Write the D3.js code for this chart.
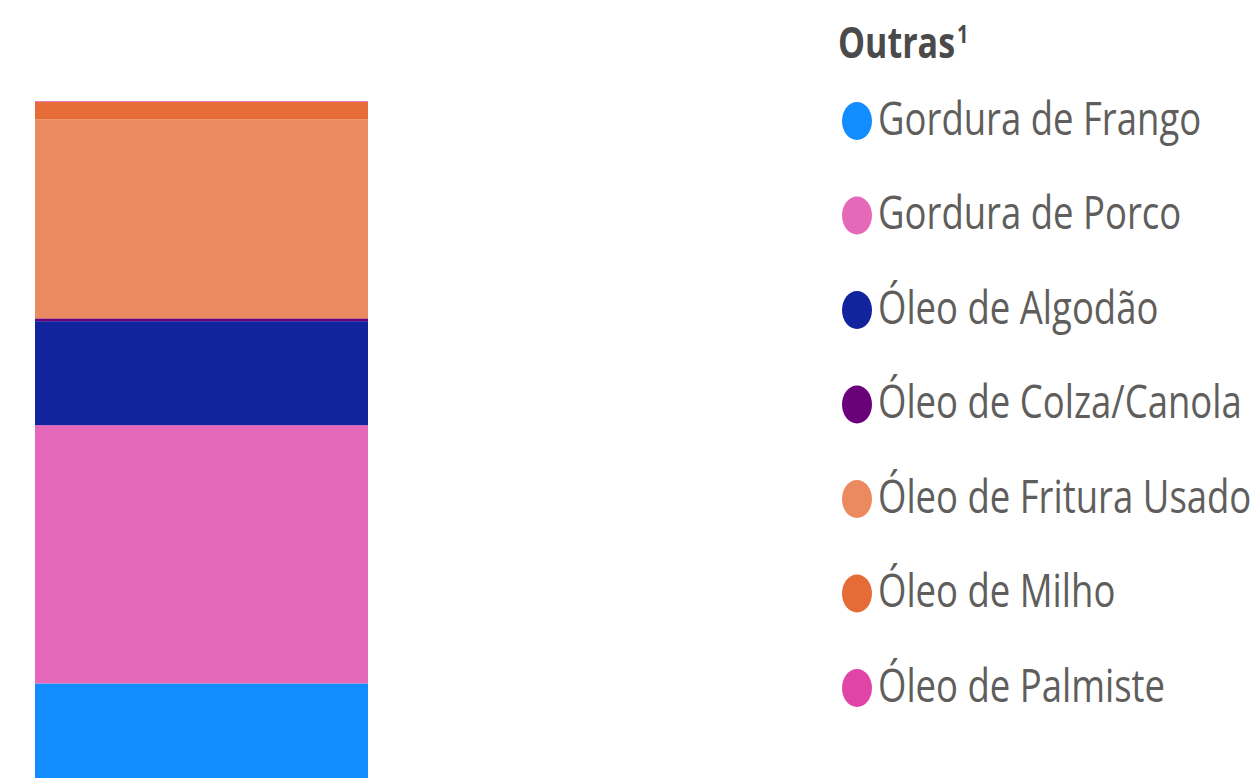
<!DOCTYPE html>
<meta charset="utf-8">
<style>
body { margin: 0; background-color: #fff; }
.legend-title { font-family: "Open Sans", sans-serif; font-weight: 700; font-size: 34px; fill: #4a4a4a; }
.legend-item text { font-family: "Open Sans", sans-serif; font-size: 36.5px; fill: #605e5c; }
</style>
<body>
<script src="https://cdn.jsdelivr.net/npm/d3@7/dist/d3.min.js"></script>
<script>
// single stacked column, "Outras" category, shares (%)
var categories = ["Outras"];
var series = ["Gordura de Frango", "Gordura de Porco", "Óleo de Algodão", "Óleo de Colza/Canola",
              "Óleo de Fritura Usado", "Óleo de Milho", "Óleo de Palmiste"];
var values = [16.7, 37.0, 14.9, 0.4, 28.5, 2.5, 0.1];
var colors = ["#118DFF", "#E668B8", "#12239E", "#6B007B", "#EB895F", "#E66C37", "#E044A7"];

// the source picture is stretched vertically, so draw in a squashed box and let the viewBox stretch it
var W = 1259, H = 778, sy = 1.27,
    vbH = H / sy;

var svg = d3.select("body")
    .append("svg")
    .attr("width", W)
    .attr("height", H)
    .attr("viewBox", "0 0 " + W + " " + vbH)
    .attr("preserveAspectRatio", "none");

var x = d3.scaleBand().domain(categories).range([35, 368]).padding(0);
var y = d3.scaleLinear().domain([0, 100]).range([800 / sy, 102 / sy]);

var row = {};
series.forEach(function(s, i) { row[s] = values[i]; });
var stacked = d3.stack().keys(series)([row]);

var color = d3.scaleOrdinal().domain(series).range(colors);

svg.append("g")
  .selectAll("rect")
  .data(stacked)
  .enter().append("rect")
    .attr("x", x("Outras"))
    .attr("width", x.bandwidth())
    .attr("y", function(d) { return y(d[0][1]); })
    .attr("height", function(d) { return y(d[0][0]) - y(d[0][1]); })
    .attr("fill", function(d) { return color(d.key); });

// legend
var legend = svg.append("g").attr("transform", "translate(838,0)");

var title = legend.append("text")
    .attr("class", "legend-title")
    .attr("y", 58 / sy)
    .text("Outras");
title.append("tspan")
    .attr("font-size", "20px")
    .attr("dx", 2)
    .attr("dy", -12)
    .text("1");

var step = 94.5 / sy;
var item = legend.selectAll(".legend-item")
    .data(series)
  .enter().append("g")
    .attr("class", "legend-item")
    .attr("transform", function(d, i) { return "translate(0," + (121 / sy + i * step) + ")"; });

item.append("circle")
    .attr("cx", 19)
    .attr("r", 15)
    .attr("fill", function(d) { return color(d); });

item.append("text")
    .attr("x", 40)
    .attr("y", 11)
    .text(function(d) { return d; });
</script>
</body>
